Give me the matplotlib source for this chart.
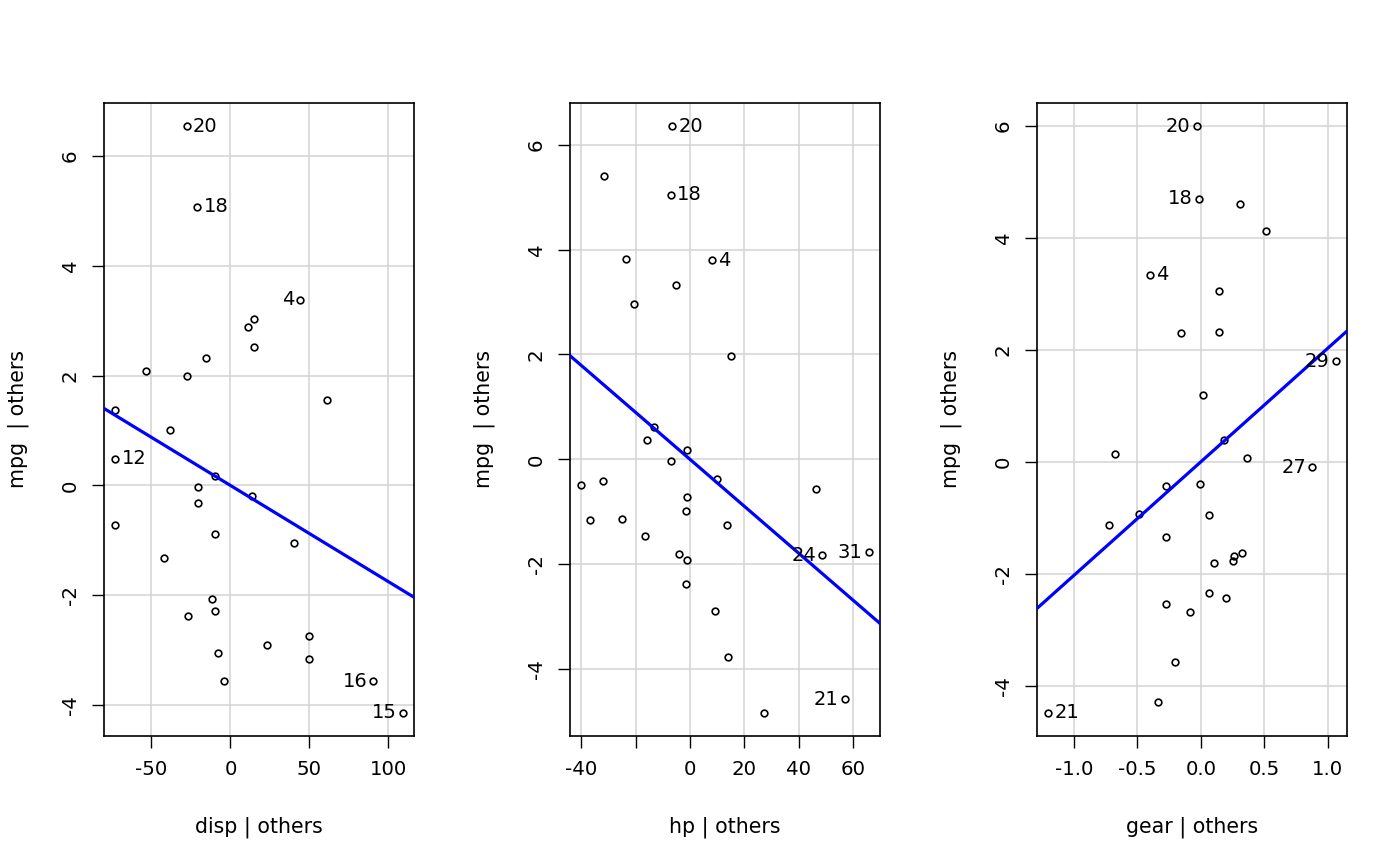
import numpy as np
import matplotlib
matplotlib.use("Agg")
import matplotlib.pyplot as plt

# added-variable plot data
disp_x = [-27.8, -20.9, 44.3, 15.2, 11.4, 14.6, -15.2, -53.2, -27.8, 61.4, -72.8, -38.0,
          -72.8, -10.1, -20.3, -20.3, 13.9, -72.8, -10.1, 39.9, -42.4, -12.0, -10.1,
          -26.6, 23.4, 50.0, -8.2, 50.0, -4.4, 90.5, 108.9]
disp_y = [6.53, 5.07, 3.38, 3.02, 2.89, 2.51, 2.31, 2.09, 2.00, 1.56, 1.38, 1.00,
          0.49, 0.18, -0.02, -0.31, -0.20, -0.71, -0.89, -1.05, -1.31, -2.07, -2.29,
          -2.38, -2.91, -2.73, -3.04, -3.15, -3.55, -3.56, -4.13]
disp_lab = ["20", "18", "4", "", "", "", "", "", "", "", "", "",
            "12", "", "", "", "", "", "", "", "", "", "",
            "", "", "", "", "", "", "16", "15"]
disp_side = {"20": "r", "18": "r", "4": "l", "12": "r", "16": "l", "15": "l"}

hp_x = [-6.5, -31.7, -7.1, -23.6, 8.1, -5.0, -20.5, 15.0, -13.2, -15.8, -1.0, -7.1,
        -40.0, -32.2, 10.1, 46.6, -1.0, -1.6, -37.0, -25.2, 13.5, -16.7, -4.2, -1.0,
        48.7, 65.8, -1.6, 9.1, 13.9, 57.1, 27.2]
hp_y = [6.35, 5.40, 5.05, 3.83, 3.80, 3.32, 2.97, 1.97, 0.61, 0.36, 0.18, -0.04,
        -0.49, -0.41, -0.38, -0.57, -0.72, -0.98, -1.16, -1.14, -1.25, -1.47, -1.80, -1.92,
        -1.83, -1.77, -2.38, -2.90, -3.77, -4.58, -4.83]
hp_lab = ["20", "", "18", "", "4", "", "", "", "", "", "", "",
          "", "", "", "", "", "", "", "", "", "", "", "",
          "24", "31", "", "", "", "21", ""]
hp_side = {"20": "r", "18": "r", "4": "r", "24": "l", "31": "l", "21": "l"}

gear_x = [-0.033, -0.012, 0.31, 0.51, -0.40, 0.14, -0.16, 0.14, 1.06, 0.02,
          0.18, -0.68, 0.36, 0.876, -0.275, -0.01, -0.486, 0.065, -0.72, -0.275,
          0.32, 0.26, 0.25, 0.10, 0.065, 0.20, -0.275, -0.085, -0.20, -0.336, -1.20]
gear_y = [5.99, 4.70, 4.60, 4.12, 3.34, 3.05, 2.30, 2.32, 1.80, 1.20,
          0.38, 0.13, 0.07, -0.10, -0.44, -0.40, -0.93, -0.95, -1.13, -1.34,
          -1.63, -1.69, -1.78, -1.80, -2.35, -2.44, -2.54, -2.68, -3.58, -4.30, -4.48]
gear_lab = ["20", "18", "", "", "4", "", "", "", "29", "",
            "", "", "", "27", "", "", "", "", "", "",
            "", "", "", "", "", "", "", "", "", "", "21"]
gear_side = {"20": "l", "18": "l", "4": "r", "29": "l", "27": "l", "21": "r"}

slopes = [-0.0175, -0.0447, 2.03]
xnames = ["disp", "hp", "gear"]

xticks = [[-50, 0, 50, 100], [-40, -20, 0, 20, 40, 60], [-1.0, -0.5, 0.0, 0.5, 1.0]]
xticklabels = [["-50", "0", "50", "100"], ["-40", "", "0", "20", "40", "60"],
               ["-1.0", "-0.5", "0.0", "0.5", "1.0"]]
yticks = [[-4, -2, 0, 2, 4, 6], [-4, -2, 0, 2, 4, 6], [-4, -2, 0, 2, 4, 6]]

panels = [(disp_x, disp_y, disp_lab, disp_side),
          (hp_x, hp_y, hp_lab, hp_side),
          (gear_x, gear_y, gear_lab, gear_side)]

plt.rcParams['font.family'] = ['DejaVu Sans']
fs = 14.2
fs_lab = 14.8
fs_id = 14.0

fig = plt.figure(figsize=(14, 8.66), dpi=100)
lefts = [104 / 1400, 570 / 1400, 1037 / 1400]
W, H = 1400, 866

for i, (x, y, lab, side) in enumerate(panels):
    ax = fig.add_axes([lefts[i], 130 / H, 310 / W, 633 / H])
    x = np.array(x)
    y = np.array(y)
    # R style 4% padding
    xr = x.max() - x.min()
    yr = y.max() - y.min()
    ax.set_xlim(x.min() - 0.04 * xr, x.max() + 0.04 * xr)
    ax.set_ylim(y.min() - 0.04 * yr, y.max() + 0.04 * yr)

    ax.set_xticks(xticks[i])
    ax.set_xticklabels(xticklabels[i])
    ax.set_yticks(yticks[i])
    ax.set_yticklabels([str(v) for v in yticks[i]], rotation=90, va="center")
    ax.grid(True, color="#d3d3d3", linewidth=1.1)
    ax.set_axisbelow(True)

    ax.plot(x, y, "o", markersize=4.8, markerfacecolor="none",
            markeredgecolor="black", markeredgewidth=1.2, zorder=3)
    ax.axline((0, 0), slope=slopes[i], color="blue", linewidth=2.3, zorder=4)

    for xi, yi, l in zip(x, y, lab):
        if not l:
            continue
        if side[l] == "r":
            ax.annotate(l, (xi, yi), xytext=(4.5, 0), textcoords="offset points",
                        ha="left", va="center", fontsize=fs_id, zorder=5)
        else:
            ax.annotate(l, (xi, yi), xytext=(-4.5, 0), textcoords="offset points",
                        ha="right", va="center", fontsize=fs_id, zorder=5)

    ax.tick_params(direction="out", length=8.5, width=1.0, labelsize=fs, pad=9)
    for s in ax.spines.values():
        s.set_linewidth(1.2)
    ax.set_xlabel(f"{xnames[i]} | others", fontsize=fs_lab, labelpad=27)
    ax.set_ylabel("mpg  | others", fontsize=fs_lab, labelpad=23)

fig.savefig("out.png", dpi=100)
